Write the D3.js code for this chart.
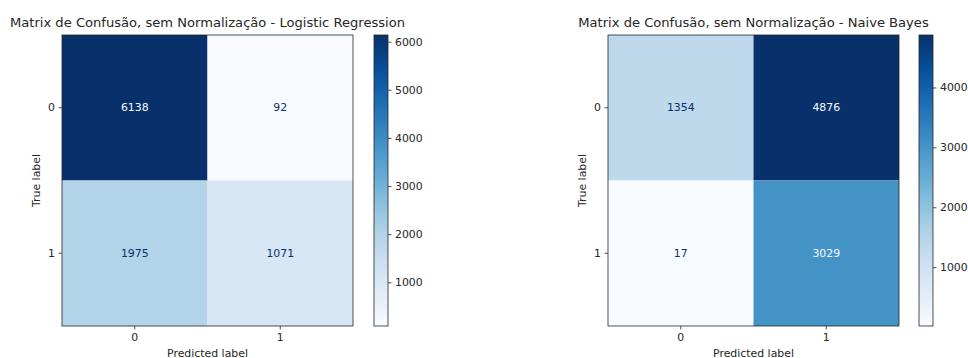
<!DOCTYPE html>
<html>
<head>
<meta charset="utf-8">
<script src="https://cdn.jsdelivr.net/npm/d3@7"></script>
<style>
  html, body { margin: 0; padding: 0; background: #fff; }
  svg { display: block; font-family: "DejaVu Sans", sans-serif; }
</style>
</head>
<body>
<svg id="chart" width="968" height="358"></svg>
<script>
// Class labels shared by both matrices
const classLabels = ["0", "1"];

// Confusion matrix counts (rows = true label, columns = predicted label)
const logisticCounts = [
  [6138, 92],
  [1975, 1071]
];
const naiveBayesCounts = [
  [1354, 4876],
  [17, 3029]
];

// Colorbar tick values for each panel
const logisticTicks = [1000, 2000, 3000, 4000, 5000, 6000];
const naiveBayesTicks = [1000, 2000, 3000, 4000];

const titles = [
  "Matrix de Confusão, sem Normalização - Logistic Regression",
  "Matrix de Confusão, sem Normalização - Naive Bayes"
];

// Matplotlib "Blues" colour stops (linear segments)
const bluesStops = ["#f7fbff", "#deebf7", "#c6dbef", "#9ecae1", "#6baed6",
                    "#4292c6", "#2171b5", "#08519c", "#08306b"];

const svg = d3.select("#chart");
const axisColor = "#262626";
const textColor = "#262626";
const labelSize = 10.9;
const titleSize = 13.1;

function blues(min, max) {
  const dom = bluesStops.map((_, i) => min + (max - min) * i / (bluesStops.length - 1));
  return d3.scaleLinear().domain(dom).range(bluesStops).interpolate(d3.interpolateRgb).clamp(true);
}

function drawPanel(opts) {
  const { counts, ticks, title, left, top, size, cbLeft, cbWidth } = opts;
  const flat = counts.flat();
  const vmin = d3.min(flat), vmax = d3.max(flat);
  const color = blues(vmin, vmax);
  const thresh = (vmin + vmax) / 2;

  const g = svg.append("g").attr("transform", `translate(${left},${top})`);

  const x = d3.scaleBand().domain(classLabels).range([0, size]);
  const y = d3.scaleBand().domain(classLabels).range([0, size]);

  // Cells
  const cells = [];
  counts.forEach((row, i) => row.forEach((v, j) => cells.push({ t: classLabels[i], p: classLabels[j], v })));

  g.selectAll("rect.cell").data(cells).join("rect")
    .attr("class", "cell")
    .attr("x", d => x(d.p))
    .attr("y", d => y(d.t))
    .attr("width", x.bandwidth())
    .attr("height", y.bandwidth())
    .attr("fill", d => color(d.v));

  g.selectAll("text.val").data(cells).join("text")
    .attr("class", "val")
    .attr("x", d => x(d.p) + x.bandwidth() / 2)
    .attr("y", d => y(d.t) + y.bandwidth() / 2)
    .attr("text-anchor", "middle")
    .attr("dominant-baseline", "central")
    .attr("font-size", labelSize)
    .attr("fill", d => d.v >= thresh ? color(vmin) : color(vmax))
    .text(d => d.v);

  // Frame
  g.append("rect")
    .attr("x", 0).attr("y", 0).attr("width", size).attr("height", size)
    .attr("fill", "none").attr("stroke", axisColor).attr("stroke-width", 0.8);

  // Axes
  const xAxis = g.append("g").attr("transform", `translate(0,${size})`)
    .call(d3.axisBottom(x).tickSize(3.5).tickPadding(3.5));
  const yAxis = g.append("g")
    .call(d3.axisLeft(y).tickSize(3.5).tickPadding(3.5));
  [xAxis, yAxis].forEach(a => {
    a.select(".domain").remove();
    a.selectAll("line").attr("stroke", axisColor).attr("stroke-width", 0.8);
    a.selectAll("text").attr("font-size", labelSize).attr("fill", textColor)
      .attr("font-family", "DejaVu Sans, sans-serif");
  });

  g.append("text")
    .attr("x", size / 2).attr("y", size + 31)
    .attr("text-anchor", "middle").attr("font-size", labelSize).attr("fill", textColor)
    .text("Predicted label");

  g.append("text")
    .attr("transform", `translate(-22,${size / 2}) rotate(-90)`)
    .attr("text-anchor", "middle").attr("font-size", labelSize).attr("fill", textColor)
    .text("True label");

  g.append("text")
    .attr("x", size / 2).attr("y", -8)
    .attr("text-anchor", "middle").attr("font-size", titleSize).attr("fill", textColor)
    .text(title);

  // Colorbar
  const cb = svg.append("g").attr("transform", `translate(${cbLeft},${top})`);
  const cbScale = d3.scaleLinear().domain([vmin, vmax]).range([size, 0]);
  const gradId = "grad" + cbLeft;
  const grad = svg.append("defs").append("linearGradient")
    .attr("id", gradId).attr("x1", 0).attr("y1", 1).attr("x2", 0).attr("y2", 0);
  grad.selectAll("stop").data(bluesStops).join("stop")
    .attr("offset", (d, i) => i / (bluesStops.length - 1))
    .attr("stop-color", d => d);
  cb.append("rect")
    .attr("width", cbWidth).attr("height", size)
    .attr("fill", `url(#${gradId})`)
    .attr("stroke", axisColor).attr("stroke-width", 0.8);
  const cbAxis = cb.append("g").attr("transform", `translate(${cbWidth},0)`)
    .call(d3.axisRight(cbScale).tickValues(ticks).tickFormat(d3.format("d"))
      .tickSize(3.5).tickPadding(3.5));
  cbAxis.select(".domain").remove();
  cbAxis.selectAll("line").attr("stroke", axisColor).attr("stroke-width", 0.8);
  cbAxis.selectAll("text").attr("font-size", labelSize).attr("fill", textColor)
    .attr("font-family", "DejaVu Sans, sans-serif");
}

drawPanel({ counts: logisticCounts, ticks: logisticTicks, title: titles[0],
            left: 62, top: 35, size: 291, cbLeft: 374, cbWidth: 14 });
drawPanel({ counts: naiveBayesCounts, ticks: naiveBayesTicks, title: titles[1],
            left: 608, top: 35, size: 291, cbLeft: 919, cbWidth: 14 });
</script>
</body>
</html>
